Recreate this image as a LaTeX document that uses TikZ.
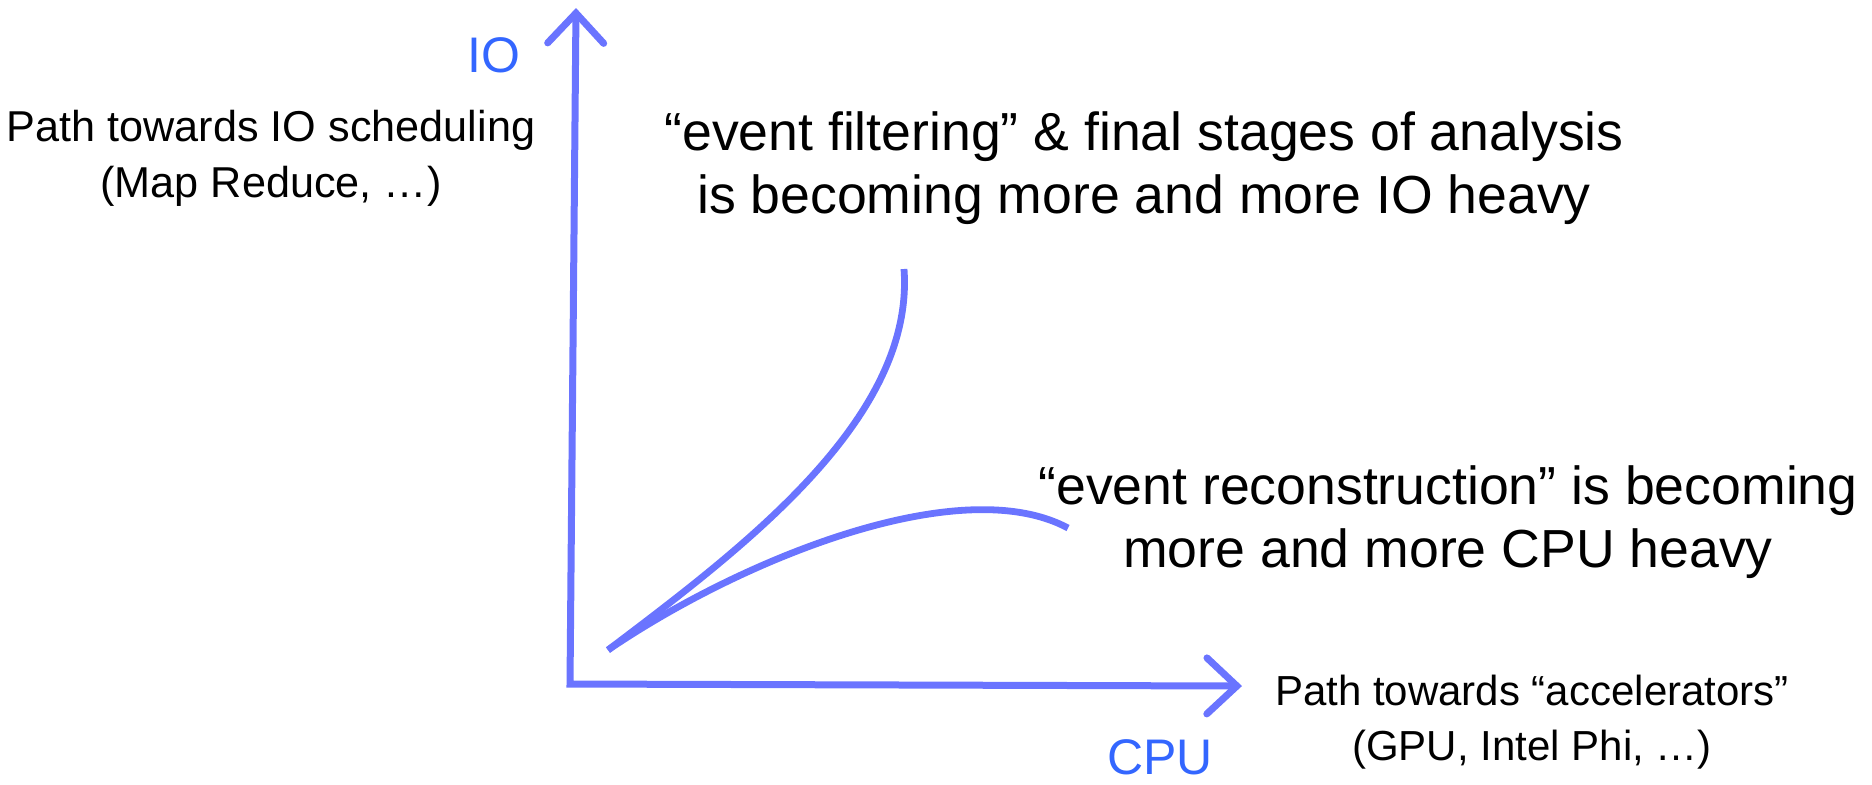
\documentclass[tikz,border=0pt]{standalone}
\usepackage{fontspec}
\setmainfont{Liberation Sans}
\usetikzlibrary{arrows.meta}
\definecolor{axisblue}{RGB}{106,116,255}
\definecolor{labelblue}{RGB}{51,102,255}
\begin{document}
\begin{tikzpicture}[x=0.5pt, y=-0.5pt,
  axis/.style={draw=axisblue, line width=3.5pt,
    {Straight Barb[length=15pt,width=28pt,line cap=round]}-{Straight Barb[length=15pt,width=28pt,line cap=round]}},
  trend/.style={draw=axisblue, line width=3.4pt},
  axislabel/.style={text=labelblue, inner sep=0pt, font=\fontsize{25}{30}\selectfont},
  pathnote/.style={align=center, inner sep=0pt, font=\fontsize{21}{27.5}\selectfont},
  bignote/.style={align=center, inner sep=0pt, font=\fontsize{26.8}{31.8}\selectfont}]
\useasboundingbox (0,0) rectangle (1872,784);
\coordinate (top) at (576,8);
\coordinate (corner) at (570,684);
\coordinate (right) at (1242,686);
\coordinate (start) at (608,650);
\coordinate (ioend) at (904,269);
\coordinate (cpuend) at (1068,528);
\node[axislabel] (io) at (494,55) {IO};
\node[axislabel] (cpu) at (1160,757) {CPU};
\node[pathnote, font=\fontsize{21.6}{28}\selectfont] (iopath) at (271,158) {Path towards IO scheduling\\(Map Reduce, …)};
\node[pathnote] (accpath) at (1532,722) {Path towards “accelerators”\\(GPU, Intel Phi, …)};
\node[bignote] (filter) at (1144,168) {“event filtering” \& final stages of analysis\\is becoming more and more IO heavy};
\node[bignote] (reco) at (1448,522) {“event reconstruction” is becoming\\more and more CPU heavy};
\draw[axis] (top) -- (corner) -- (right);
\draw[trend] (start) .. controls (740,550) and (915,420) .. (ioend);
\draw[trend] (start) .. controls (740,560) and (960,470) .. (cpuend);
\end{tikzpicture}
\end{document}
